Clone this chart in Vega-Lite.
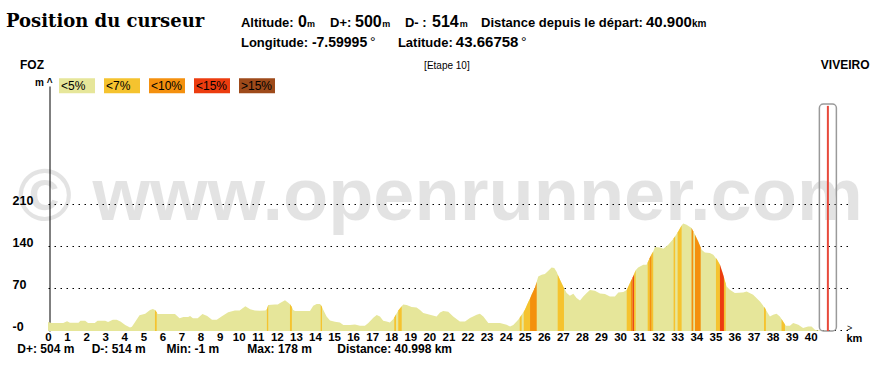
{
  "$schema": "https://vega.github.io/schema/vega-lite/v6.json",
  "width": 802,
  "height": 245,
  "autosize": {"type": "none"},
  "padding": {"left": 48, "top": 86, "right": 33, "bottom": 46},
  "background": "white",
  "config": {
    "view": {"stroke": null},
    "text": {"font": "Liberation Sans", "fontWeight": "bold", "align": "left", "baseline": "alphabetic", "color": "black", "fontSize": 13}
  },
  "datasets": {
    "profile": [
      {"k":0,"a":14},{"k":0.2,"a":12},{"k":0.8,"a":12},{"k":1.0,"a":15},{"k":1.15,"a":12.5},{"k":1.6,"a":12.5},{"k":1.7,"a":16},{"k":1.95,"a":16},{"k":2.1,"a":12},{"k":2.45,"a":12},{"k":2.6,"a":16},{"k":3.0,"a":16},{"k":3.15,"a":14},{"k":3.4,"a":17.5},{"k":3.6,"a":17.5},{"k":3.8,"a":14.5},{"k":4.05,"a":9},{"k":4.3,"a":4.7},{"k":4.4,"a":6},{"k":4.55,"a":13},{"k":4.8,"a":25},{"k":5.1,"a":27.5},{"k":5.35,"a":34},{"k":5.5,"a":35.5},{"k":5.61,"a":34},{"k":5.7,"a":30},{"k":5.75,"a":27},{"k":6.4,"a":27},{"k":6.66,"a":27},{"k":6.9,"a":20},{"k":7.1,"a":22},{"k":7.35,"a":22},{"k":7.45,"a":24},{"k":7.6,"a":20},{"k":7.85,"a":20},{"k":8.1,"a":27},{"k":8.35,"a":24},{"k":8.6,"a":17.5},{"k":8.85,"a":17.5},{"k":9.1,"a":23},{"k":9.45,"a":30},{"k":9.8,"a":33},{"k":10.05,"a":33},{"k":10.35,"a":40},{"k":10.6,"a":35},{"k":10.85,"a":33},{"k":11.1,"a":32.5},{"k":11.4,"a":33},{"k":11.48,"a":35},{"k":11.55,"a":42},{"k":11.9,"a":43},{"k":12.05,"a":43},{"k":12.15,"a":45},{"k":12.43,"a":50},{"k":12.6,"a":46},{"k":12.69,"a":43.5},{"k":12.79,"a":39},{"k":12.86,"a":34},{"k":12.95,"a":32},{"k":13.74,"a":32},{"k":13.91,"a":41},{"k":14.09,"a":43.7},{"k":14.26,"a":43.7},{"k":14.3,"a":42.5},{"k":14.37,"a":39},{"k":14.44,"a":34},{"k":14.61,"a":23},{"k":14.79,"a":16.3},{"k":15.05,"a":14.2},{"k":15.31,"a":13},{"k":15.49,"a":8.7},{"k":15.84,"a":8.7},{"k":16.1,"a":9.7},{"k":16.36,"a":7.5},{"k":16.62,"a":7.5},{"k":16.8,"a":12},{"k":17.06,"a":20.8},{"k":17.24,"a":25.3},{"k":17.41,"a":23},{"k":17.58,"a":16},{"k":17.76,"a":14.7},{"k":17.93,"a":13},{"k":18.11,"a":18.7},{"k":18.16,"a":21.4},{"k":18.25,"a":26.4},{"k":18.37,"a":33},{"k":18.55,"a":40},{"k":18.63,"a":43},{"k":18.81,"a":42},{"k":19.07,"a":38.7},{"k":19.33,"a":38},{"k":19.51,"a":34},{"k":19.68,"a":28.7},{"k":20.03,"a":25.8},{"k":20.38,"a":23},{"k":20.56,"a":29.7},{"k":20.73,"a":32},{"k":20.99,"a":30.8},{"k":21.25,"a":23},{"k":21.6,"a":14.7},{"k":21.87,"a":14.7},{"k":22.13,"a":20.3},{"k":22.48,"a":25.8},{"k":22.65,"a":27.5},{"k":22.83,"a":23},{"k":23.09,"a":12},{"k":23.35,"a":12},{"k":23.7,"a":12},{"k":24.05,"a":9.2},{"k":24.23,"a":6.3},{"k":24.4,"a":8.7},{"k":24.5,"a":12},{"k":24.66,"a":17.5},{"k":24.74,"a":21},{"k":24.84,"a":25.8},{"k":24.95,"a":31},{"k":25.01,"a":34.2},{"k":25.19,"a":47},{"k":25.28,"a":53},{"k":25.36,"a":59.2},{"k":25.54,"a":71.3},{"k":25.63,"a":81},{"k":25.71,"a":89.7},{"k":25.89,"a":92.5},{"k":26.06,"a":93.7},{"k":26.24,"a":99.2},{"k":26.41,"a":104.7},{"k":26.55,"a":103.7},{"k":26.68,"a":97},{"k":26.73,"a":93},{"k":26.85,"a":84.2},{"k":27.02,"a":73},{"k":27.06,"a":70.5},{"k":27.2,"a":62},{"k":27.37,"a":57.5},{"k":27.55,"a":60.8},{"k":27.72,"a":53.7},{"k":27.9,"a":49.7},{"k":28.07,"a":56.3},{"k":28.25,"a":62},{"k":28.42,"a":67},{"k":28.68,"a":65.8},{"k":28.95,"a":61.3},{"k":29.21,"a":60.3},{"k":29.47,"a":56.3},{"k":29.73,"a":56.3},{"k":29.91,"a":63},{"k":30.17,"a":63.7},{"k":30.35,"a":67},{"k":30.52,"a":78.7},{"k":30.57,"a":82},{"k":30.66,"a":88},{"k":30.73,"a":93},{"k":30.82,"a":100},{"k":30.95,"a":104.7},{"k":31.22,"a":109.2},{"k":31.39,"a":109.2},{"k":31.45,"a":113},{"k":31.55,"a":120},{"k":31.66,"a":127},{"k":31.74,"a":131.3},{"k":31.83,"a":138.7},{"k":32.09,"a":138},{"k":32.27,"a":135.8},{"k":32.53,"a":142.5},{"k":32.71,"a":149.2},{"k":32.81,"a":153},{"k":32.89,"a":156.5},{"k":33.05,"a":164.7},{"k":33.23,"a":174.7},{"k":33.31,"a":178},{"k":33.49,"a":175.8},{"k":33.75,"a":170.3},{"k":33.84,"a":165},{"k":33.93,"a":159.2},{"k":34.1,"a":148},{"k":34.23,"a":138},{"k":34.28,"a":134.2},{"k":34.45,"a":129.7},{"k":34.71,"a":128.7},{"k":34.89,"a":125.8},{"k":35.03,"a":120},{"k":35.07,"a":118.7},{"k":35.24,"a":109.2},{"k":35.41,"a":92.5},{"k":35.45,"a":88},{"k":35.54,"a":78},{"k":35.59,"a":73},{"k":35.76,"a":67.5},{"k":36.02,"a":62},{"k":36.46,"a":63},{"k":36.64,"a":64.7},{"k":36.98,"a":59.2},{"k":37.34,"a":48},{"k":37.55,"a":39},{"k":37.6,"a":37},{"k":37.65,"a":34},{"k":37.86,"a":23},{"k":38.03,"a":25.8},{"k":38.21,"a":27.5},{"k":38.38,"a":23},{"k":38.47,"a":19},{"k":38.55,"a":14.7},{"k":38.65,"a":9.5},{"k":38.7,"a":7.5},{"k":38.91,"a":7.5},{"k":39.08,"a":12},{"k":39.35,"a":9.2},{"k":39.6,"a":3.7},{"k":39.86,"a":6.3},{"k":40.04,"a":6.3},{"k":40.22,"a":0.8},{"k":40.32,"a":0},{"k":40.998,"a":-1}
    ],
    "segments": [
      {"s":1,"c":"<7%","k":5.61,"a":34},{"s":1,"c":"<7%","k":5.7,"a":30},
      {"s":2,"c":"<7%","k":11.48,"a":35},{"s":2,"c":"<7%","k":11.55,"a":42},
      {"s":3,"c":"<7%","k":12.69,"a":43.5},{"s":3,"c":"<7%","k":12.79,"a":39},
      {"s":4,"c":"<7%","k":14.3,"a":42.5},{"s":4,"c":"<7%","k":14.37,"a":39},
      {"s":5,"c":"<7%","k":18.16,"a":21.4},{"s":5,"c":"<7%","k":18.25,"a":26.4},
      {"s":6,"c":"<7%","k":18.37,"a":33},{"s":6,"c":"<7%","k":18.55,"a":40},
      {"s":7,"c":"<7%","k":24.74,"a":21},{"s":7,"c":"<7%","k":24.84,"a":25.8},
      {"s":8,"c":"<7%","k":24.95,"a":31},{"s":8,"c":"<7%","k":25.01,"a":34.2},{"s":8,"c":"<7%","k":25.19,"a":47},{"s":8,"c":"<7%","k":25.28,"a":53},
      {"s":9,"c":"<10%","k":25.28,"a":53},{"s":9,"c":"<10%","k":25.36,"a":59.2},{"s":9,"c":"<10%","k":25.54,"a":71.3},{"s":9,"c":"<10%","k":25.63,"a":81},
      {"s":10,"c":"<7%","k":26.73,"a":93},{"s":10,"c":"<7%","k":26.85,"a":84.2},{"s":10,"c":"<7%","k":27.02,"a":73},{"s":10,"c":"<7%","k":27.06,"a":70.5},
      {"s":11,"c":"<7%","k":30.35,"a":67},{"s":11,"c":"<7%","k":30.52,"a":78.7},{"s":11,"c":"<7%","k":30.57,"a":82},
      {"s":12,"c":"<10%","k":30.57,"a":82},{"s":12,"c":"<10%","k":30.66,"a":88},
      {"s":13,"c":"<15%","k":30.66,"a":88},{"s":13,"c":"<15%","k":30.73,"a":93},
      {"s":14,"c":"<7%","k":30.73,"a":93},{"s":14,"c":"<7%","k":30.82,"a":100},
      {"s":15,"c":"<7%","k":31.45,"a":113},{"s":15,"c":"<7%","k":31.55,"a":120},
      {"s":16,"c":"<10%","k":31.55,"a":120},{"s":16,"c":"<10%","k":31.66,"a":127},
      {"s":17,"c":"<7%","k":31.66,"a":127},{"s":17,"c":"<7%","k":31.74,"a":131.3},
      {"s":18,"c":"<7%","k":32.81,"a":153},{"s":18,"c":"<7%","k":32.89,"a":156.5},
      {"s":19,"c":"<7%","k":33.02,"a":163},{"s":19,"c":"<7%","k":33.05,"a":164.7},{"s":19,"c":"<7%","k":33.23,"a":174.7},
      {"s":20,"c":"<10%","k":33.75,"a":170.3},{"s":20,"c":"<10%","k":33.84,"a":165},
      {"s":21,"c":"<10%","k":33.93,"a":159.2},{"s":21,"c":"<10%","k":34.1,"a":148},{"s":21,"c":"<10%","k":34.23,"a":138},
      {"s":22,"c":"<7%","k":35.03,"a":120},{"s":22,"c":"<7%","k":35.07,"a":118.7},{"s":22,"c":"<7%","k":35.24,"a":109.2},
      {"s":23,"c":"<15%","k":35.24,"a":109.2},{"s":23,"c":"<15%","k":35.41,"a":92.5},{"s":23,"c":"<15%","k":35.45,"a":88},
      {"s":24,"c":"<7%","k":35.45,"a":88},{"s":24,"c":"<7%","k":35.54,"a":78},
      {"s":25,"c":"<7%","k":37.55,"a":39},{"s":25,"c":"<7%","k":37.6,"a":37},{"s":25,"c":"<7%","k":37.65,"a":34},
      {"s":26,"c":"<7%","k":38.47,"a":19},{"s":26,"c":"<7%","k":38.55,"a":14.7},{"s":26,"c":"<7%","k":38.65,"a":9.5}
    ],
    "cursor": [{"dist": 40.9, "alt": 0, "dplus": 500, "dminus": 514, "lon": -7.59995, "lat": 43.66758}],
    "route": [{"start": "FOZ", "end": "VIVEIRO", "stage": "[Etape 10]", "total": 40.998, "dplus": 504, "dminus": 514, "min": -1, "max": 178}]
  },
  "layer": [
    {
      "data": {"name": "profile"},
      "mark": {"type": "area", "color": "#e6e69a"},
      "encoding": {
        "x": {"field": "k", "type": "quantitative",
          "scale": {"domain": [0, 42.06], "nice": false, "zero": false, "padding": 0},
          "axis": {"values": [0,1,2,3,4,5,6,7,8,9,10,11,12,13,14,15,16,17,18,19,20,21,22,23,24,25,26,27,28,29,30,31,32,33,34,35,36,37,38,39,40],
            "tickCount": 42, "labelExpr": "datum.value <= 40.5 ? format(datum.value, 'd') : ''",
            "domain": false, "ticks": false, "grid": false, "labelFlush": false, "labelOverlap": false, "labelSeparation": 0,
            "labelFont": "Liberation Sans", "labelFontWeight": "bold", "labelFontSize": 11.5, "labelColor": "black",
            "labelBaseline": "alphabetic", "labelPadding": 9.5,
            "title": "km", "titleX": 798, "titleY": 10.5, "titleAlign": "left", "titleBaseline": "alphabetic",
            "titleFont": "Liberation Sans", "titleFontWeight": "bold", "titleFontSize": 11, "titleColor": "black"}},
        "y": {"field": "a", "type": "quantitative",
          "scale": {"domain": [-1.2, 407.1], "nice": false, "zero": false, "padding": 0},
          "axis": {"values": [0, 70, 140, 210], "labelExpr": "datum.value == 0 ? '-0' : datum.label",
            "labelAlign": "left", "labelBaseline": "alphabetic", "labelPadding": 37.5,
            "labelFont": "Liberation Sans", "labelFontWeight": "bold", "labelFontSize": 12.5, "labelColor": "black",
            "ticks": false, "domainColor": "black", "domainWidth": 1, "offset": -1.5,
            "grid": true, "gridColor": "black", "gridDash": [1.5, 4.5], "gridWidth": 1.2,
            "title": "m ^", "titleAngle": 0, "titleX": -15, "titleY": -1, "titleAlign": "left", "titleBaseline": "alphabetic",
            "titleFont": "Liberation Sans", "titleFontWeight": "bold", "titleFontSize": 10, "titleColor": "black"}},
        "y2": {"datum": -1.2}
      }
    },
    {
      "data": {"name": "route"},
      "mark": {"type": "text", "text": "© www.openrunner.com", "fontSize": 74, "color": "black", "opacity": 0.105, "align": "center"},
      "encoding": {"x": {"datum": 20.56}, "y": {"datum": 184}}
    },
    {
      "data": {"name": "segments"},
      "mark": {"type": "area"},
      "encoding": {
        "x": {"field": "k", "type": "quantitative"},
        "y": {"field": "a", "type": "quantitative"},
        "y2": {"datum": -1.2},
        "detail": {"field": "s", "type": "nominal"},
        "color": {"field": "c", "type": "nominal",
          "scale": {"domain": ["<5%", "<7%", "<10%", "<15%", ">15%"], "range": ["#e6e69a", "#f5c32f", "#f4900e", "#ec3c0f", "#9e4a1a"]},
          "legend": {"orient": "none", "legendX": 11, "legendY": -18.5, "direction": "horizontal", "columns": 5, "title": null,
            "symbolType": "M-1,-0.4167H1V0.4167H-1Z", "symbolSize": 1296, "symbolStrokeWidth": 0, "symbolOpacity": 1,
            "labelOffset": -34, "columnPadding": 9, "padding": 0, "labelFont": "Liberation Sans", "labelFontSize": 12,
            "labelColor": "black", "labelLimit": 0}}
      }
    },
    {
      "data": {"name": "cursor"},
      "mark": {"type": "bar", "width": 17, "cornerRadius": 4, "fill": "white", "fillOpacity": 0, "stroke": "#9a9a9a", "strokeWidth": 1.5},
      "encoding": {"x": {"field": "dist", "type": "quantitative"}, "y": {"datum": 377}, "y2": {"datum": -1.2}}
    },
    {
      "data": {"name": "cursor"},
      "mark": {"type": "rule", "color": "#e8493b", "strokeWidth": 2},
      "encoding": {"x": {"field": "dist", "type": "quantitative"}, "y": {"datum": 374}, "y2": {"datum": -1.2}}
    },
    {
      "data": {"name": "route"},
      "mark": {"type": "text", "text": ">", "fontSize": 9, "fontWeight": "normal"},
      "encoding": {"x": {"datum": 41.9}, "y": {"datum": -0.5}}
    },
    {
      "data": {"name": "route"},
      "mark": {"type": "text", "fontSize": 12},
      "encoding": {"x": {"datum": -1.47}, "y": {"datum": 435.4}, "text": {"field": "start", "type": "nominal"}}
    },
    {
      "data": {"name": "route"},
      "mark": {"type": "text", "fontSize": 12},
      "encoding": {"x": {"datum": 40.53}, "y": {"datum": 435.4}, "text": {"field": "end", "type": "nominal"}}
    },
    {
      "data": {"name": "route"},
      "mark": {"type": "text", "fontSize": 10, "fontWeight": "normal", "align": "center"},
      "encoding": {"x": {"datum": 20.92}, "y": {"datum": 436}, "text": {"field": "stage", "type": "nominal"}}
    },
    {
      "data": {"name": "route"},
      "transform": [{"calculate": "'D+: ' + datum.dplus + ' m'", "as": "t"}],
      "mark": {"type": "text", "fontSize": 12},
      "encoding": {"x": {"datum": -1.61}, "y": {"datum": -37.1}, "text": {"field": "t", "type": "nominal"}}
    },
    {
      "data": {"name": "route"},
      "transform": [{"calculate": "'D-: ' + datum.dminus + ' m'", "as": "t"}],
      "mark": {"type": "text", "fontSize": 12},
      "encoding": {"x": {"datum": 2.29}, "y": {"datum": -37.1}, "text": {"field": "t", "type": "nominal"}}
    },
    {
      "data": {"name": "route"},
      "transform": [{"calculate": "'Min: ' + datum.min + ' m'", "as": "t"}],
      "mark": {"type": "text", "fontSize": 12},
      "encoding": {"x": {"datum": 6.22}, "y": {"datum": -37.1}, "text": {"field": "t", "type": "nominal"}}
    },
    {
      "data": {"name": "route"},
      "transform": [{"calculate": "'Max: ' + datum.max + ' m'", "as": "t"}],
      "mark": {"type": "text", "fontSize": 12},
      "encoding": {"x": {"datum": 10.45}, "y": {"datum": -37.1}, "text": {"field": "t", "type": "nominal"}}
    },
    {
      "data": {"name": "route"},
      "transform": [{"calculate": "'Distance: ' + datum.total + ' km'", "as": "t"}],
      "mark": {"type": "text", "fontSize": 12},
      "encoding": {"x": {"datum": 15.17}, "y": {"datum": -37.1}, "text": {"field": "t", "type": "nominal"}}
    },
    {
      "data": {"name": "cursor"},
      "mark": {"type": "text", "text": "Position du curseur", "font": "DejaVu Serif", "fontSize": 18},
      "encoding": {"x": {"datum": -2.2}, "y": {"datum": 505.9}}
    },
    {
      "data": {"name": "cursor"},
      "mark": {"type": "text", "text": "Altitude:"},
      "encoding": {"x": {"datum": 10.12}, "y": {"datum": 505.9}}
    },
    {
      "data": {"name": "cursor"},
      "mark": {"type": "text", "fontSize": 16},
      "encoding": {"x": {"datum": 13.11}, "y": {"datum": 505.9}, "text": {"field": "alt", "type": "nominal"}}
    },
    {
      "data": {"name": "cursor"},
      "mark": {"type": "text", "text": "m", "fontSize": 9},
      "encoding": {"x": {"datum": 13.58}, "y": {"datum": 505.9}}
    },
    {
      "data": {"name": "cursor"},
      "mark": {"type": "text", "text": "D+:"},
      "encoding": {"x": {"datum": 14.79}, "y": {"datum": 505.9}}
    },
    {
      "data": {"name": "cursor"},
      "mark": {"type": "text", "fontSize": 16},
      "encoding": {"x": {"datum": 16.1}, "y": {"datum": 505.9}, "text": {"field": "dplus", "type": "nominal"}}
    },
    {
      "data": {"name": "cursor"},
      "mark": {"type": "text", "text": "m", "fontSize": 9},
      "encoding": {"x": {"datum": 17.53}, "y": {"datum": 505.9}}
    },
    {
      "data": {"name": "cursor"},
      "mark": {"type": "text", "text": "D- :"},
      "encoding": {"x": {"datum": 18.72}, "y": {"datum": 505.9}}
    },
    {
      "data": {"name": "cursor"},
      "mark": {"type": "text", "fontSize": 16},
      "encoding": {"x": {"datum": 20.14}, "y": {"datum": 505.9}, "text": {"field": "dminus", "type": "nominal"}}
    },
    {
      "data": {"name": "cursor"},
      "mark": {"type": "text", "text": "m", "fontSize": 9},
      "encoding": {"x": {"datum": 21.6}, "y": {"datum": 505.9}}
    },
    {
      "data": {"name": "cursor"},
      "mark": {"type": "text", "text": "Distance depuis le départ:"},
      "encoding": {"x": {"datum": 22.71}, "y": {"datum": 505.9}}
    },
    {
      "data": {"name": "cursor"},
      "mark": {"type": "text", "fontSize": 15},
      "encoding": {"x": {"datum": 31.36}, "y": {"datum": 505.9}, "text": {"field": "dist", "type": "quantitative", "format": ".3f"}}
    },
    {
      "data": {"name": "cursor"},
      "mark": {"type": "text", "text": "km", "fontSize": 10},
      "encoding": {"x": {"datum": 33.77}, "y": {"datum": 505.9}}
    },
    {
      "data": {"name": "cursor"},
      "mark": {"type": "text", "text": "Longitude:"},
      "encoding": {"x": {"datum": 10.12}, "y": {"datum": 471.6}}
    },
    {
      "data": {"name": "cursor"},
      "mark": {"type": "text", "fontSize": 14},
      "encoding": {"x": {"datum": 13.84}, "y": {"datum": 471.6}, "text": {"field": "lon", "type": "nominal"}}
    },
    {
      "data": {"name": "cursor"},
      "mark": {"type": "text", "text": "°", "fontSize": 14, "fontWeight": "normal"},
      "encoding": {"x": {"datum": 16.89}, "y": {"datum": 471.6}}
    },
    {
      "data": {"name": "cursor"},
      "mark": {"type": "text", "text": "Latitude:"},
      "encoding": {"x": {"datum": 18.35}, "y": {"datum": 471.6}}
    },
    {
      "data": {"name": "cursor"},
      "mark": {"type": "text", "fontSize": 15},
      "encoding": {"x": {"datum": 21.39}, "y": {"datum": 471.6}, "text": {"field": "lat", "type": "nominal"}}
    },
    {
      "data": {"name": "cursor"},
      "mark": {"type": "text", "text": "°", "fontSize": 14, "fontWeight": "normal"},
      "encoding": {"x": {"datum": 24.8}, "y": {"datum": 471.6}}
    }
  ]
}
